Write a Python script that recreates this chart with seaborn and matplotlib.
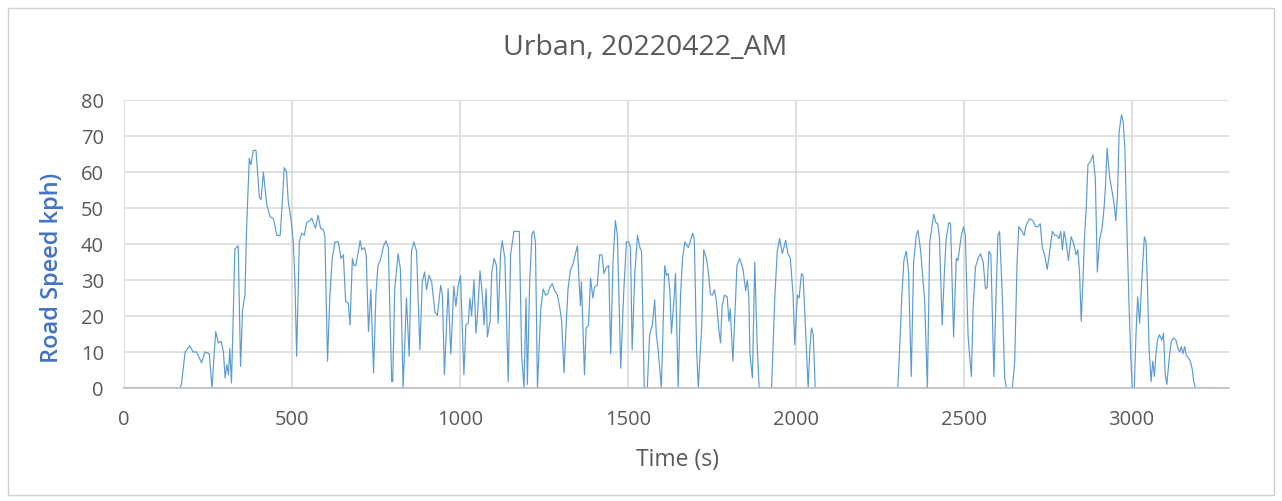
import matplotlib
matplotlib.use("Agg")
import matplotlib.pyplot as plt
import seaborn as sns
import pandas as pd
from matplotlib.patches import Rectangle

# Drive trace: elapsed time (s) and road speed (km/h)
time_s = [
    0, 167, 171, 182, 196, 206, 216, 231, 241, 254, 262, 273, 281, 289, 296, 301,
    306, 311, 315, 320, 325, 330, 340, 347, 353, 360, 365, 373, 378, 385, 393, 403,
    408, 415, 425, 435, 445, 455, 465, 471, 477, 484, 489, 497, 504, 509, 514, 522,
    529, 537, 544, 554, 559, 570, 578, 585, 593, 598, 606, 613, 620, 628, 638, 646,
    653, 660, 668, 673, 680, 685, 690, 698, 703, 708, 716, 721, 728, 735, 743, 750,
    756, 763, 773, 780, 787, 797, 800, 806, 816, 823, 831, 841, 849, 856, 863, 871,
    881, 888, 895, 901, 908, 916, 926, 933, 943, 948, 954, 965, 973, 982, 988, 995,
    1002, 1012, 1018, 1025, 1030, 1035, 1042, 1048, 1053, 1060, 1067, 1072, 1078, 1082, 1090, 1095,
    1102, 1109, 1114, 1121, 1126, 1134, 1144, 1151, 1161, 1177, 1184, 1191, 1197, 1201, 1208, 1215,
    1220, 1225, 1231, 1241, 1248, 1255, 1261, 1268, 1275, 1281, 1290, 1298, 1303, 1310, 1317, 1322,
    1329, 1337, 1344, 1350, 1355, 1359, 1362, 1371, 1376, 1383, 1389, 1396, 1401, 1409, 1416, 1423,
    1429, 1436, 1443, 1449, 1456, 1463, 1469, 1479, 1488, 1496, 1503, 1508, 1513, 1521, 1529, 1536,
    1541, 1549, 1558, 1565, 1573, 1580, 1585, 1590, 1600, 1603, 1610, 1615, 1620, 1625, 1630, 1637,
    1642, 1650, 1657, 1663, 1670, 1680, 1687, 1693, 1698, 1705, 1710, 1715, 1720, 1726, 1734, 1739,
    1746, 1752, 1758, 1764, 1771, 1776, 1781, 1788, 1796, 1801, 1805, 1813, 1825, 1833, 1843, 1851,
    1856, 1860, 1864, 1871, 1878, 1885, 1891, 1928, 1938, 1945, 1952, 1960, 1970, 1977, 1984, 1992,
    1997, 2005, 2010, 2017, 2022, 2029, 2037, 2042, 2047, 2052, 2058, 2304, 2309, 2316, 2322, 2329,
    2336, 2344, 2351, 2359, 2364, 2372, 2379, 2384, 2392, 2399, 2411, 2417, 2423, 2428, 2436, 2443,
    2448, 2456, 2461, 2470, 2478, 2483, 2493, 2500, 2505, 2513, 2516, 2523, 2528, 2535, 2543, 2550,
    2558, 2565, 2570, 2575, 2581, 2590, 2597, 2602, 2607, 2615, 2622, 2627, 2645, 2652, 2659, 2664,
    2672, 2680, 2686, 2696, 2706, 2714, 2721, 2728, 2734, 2741, 2749, 2756, 2764, 2771, 2778, 2784,
    2789, 2794, 2799, 2805, 2812, 2820, 2828, 2835, 2840, 2845, 2850, 2855, 2860, 2865, 2870, 2878,
    2885, 2892, 2898, 2905, 2912, 2918, 2922, 2927, 2930, 2935, 2942, 2948, 2953, 2958, 2963, 2970,
    2975, 2980, 2985, 2992, 2998, 3002, 3008, 3013, 3018, 3024, 3032, 3038, 3043, 3048, 3052, 3058,
    3063, 3068, 3072, 3077, 3083, 3090, 3095, 3100, 3105, 3112, 3118, 3125, 3132, 3138, 3143, 3148,
    3153, 3158, 3163, 3170, 3175, 3180, 3185, 3190, 3240,
]
speed_kph = [
    0, 0, 1, 10, 11.7, 10, 10, 7, 10, 9.5, 0, 15.7, 12.5, 13, 10, 2.8,
    6.5, 3.7, 11, 1.4, 19, 38.6, 39.5, 6, 21.7, 25.8, 44.4, 63.8, 62, 66, 66, 53,
    52.3, 60, 51, 47.6, 47, 42.4, 42.4, 51, 61.2, 60, 51.8, 47, 40.6, 29.5, 8.8, 40.6,
    43, 42.4, 46, 46.5, 47.2, 44.4, 48, 44.4, 44, 42.4, 7.4, 25.8, 36, 40.6, 40.6, 36,
    37, 24, 23.5, 17.5, 36, 34, 34, 38, 41, 38.4, 39, 37, 15.7, 27.3, 4.2, 25.8,
    34, 35.4, 39.5, 40.9, 39, 1.8, 1.8, 27.5, 37.3, 33, 0, 25, 8.8, 38, 40.6, 38,
    10.6, 29.5, 32.2, 27.3, 31.3, 29.5, 21, 20.2, 28.5, 25.8, 3.7, 27.6, 9.5, 28.3, 22.7, 28.5,
    31.3, 3.7, 17.5, 18, 25, 20, 30, 15.2, 21, 32.6, 25.8, 17.5, 27.5, 14.2, 18.5, 32.2,
    36, 34, 18, 37, 40.9, 36, 1.8, 37, 43.5, 43.5, 9, 0, 25, 1, 30, 43,
    43.6, 40.6, 0, 22, 27.5, 25.8, 26, 28, 29, 27.3, 26, 22, 18.5, 4.2, 18.5, 27.5,
    32.6, 34.5, 37.3, 39.5, 29.5, 22.9, 29.5, 3.7, 16.7, 17.5, 30.5, 25, 28, 28.5, 37, 37,
    31.8, 33.5, 34, 9.5, 35, 46.5, 42.4, 5.5, 27, 40.6, 40.6, 39, 10.6, 32.2, 42.4, 39,
    38, 0, 0, 14.8, 17.5, 24.5, 14.8, 11, 0, 10, 34, 31.3, 31.8, 27.5, 15.2, 24,
    31.8, 0, 25.8, 36, 40.6, 39, 41, 43, 41.5, 10, 0, 9, 16.7, 38.4, 36, 33,
    26, 25.8, 27.3, 24, 16.2, 12.5, 22.9, 25.8, 25.3, 18.5, 22, 7.4, 34, 36, 33, 27,
    30, 25.8, 9, 2.8, 35, 12.5, 0, 0, 25.8, 38, 41.5, 37.3, 41, 37.3, 36, 25.8,
    12, 25.8, 25, 31.8, 31.3, 16.7, 0, 11, 16.7, 15, 0, 0, 10, 25.8, 35.4, 38,
    32.2, 3.2, 35, 42.4, 43.8, 38, 30, 24, 0, 40.6, 48.3, 46, 45.6, 41.5, 17.5, 33,
    41.5, 46, 45.6, 14.2, 36, 35.4, 42.4, 44.8, 42.4, 14.8, 11, 3.2, 22, 33.5, 36, 37.3,
    35, 27.5, 28, 38, 37, 3.2, 27.5, 42.4, 43.5, 25.8, 2.8, 0, 0, 7.4, 35, 44.8,
    43.8, 42.4, 45.2, 47, 46.5, 44.8, 44.8, 45.6, 39, 37, 33, 38, 43.5, 42.4, 42.4, 41.5,
    43.5, 38.4, 43.5, 40.6, 35.4, 42, 40, 37, 38.4, 32.2, 18.5, 29.5, 42.4, 50, 62, 63,
    64.8, 58.3, 32.2, 41.5, 44.4, 50, 55.5, 66.6, 63.4, 58.3, 54.6, 51, 46.5, 53.7, 71.3, 75.9,
    74, 66.6, 48, 24, 7.4, 0, 0, 14.8, 25.3, 18, 33, 42, 40.6, 25.8, 11, 1.8,
    7.4, 3.2, 9, 13.3, 14.8, 13.3, 15.2, 3.7, 1, 8.3, 12.9, 13.9, 13.3, 11, 10, 11.5,
    9.5, 11.5, 9, 8.3, 7.4, 5.5, 1.8, 0, 0,
]

x_ticks = [0, 500, 1000, 1500, 2000, 2500, 3000]
y_ticks = [0, 10, 20, 30, 40, 50, 60, 70, 80]

df = pd.DataFrame({"time": time_s, "speed": speed_kph})

sns.set_theme(style="white")
plt.rcParams["font.family"] = ["Open Sans", "DejaVu Sans"]

W, H = 1282, 501
fig = plt.figure(figsize=(W / 100, H / 100), dpi=100)
ax = fig.add_axes([124 / W, 1 - 388 / H, (1229 - 124) / W, (388 - 100) / H])

sns.lineplot(data=df, x="time", y="speed", ax=ax,
             color="#5B9BD5", linewidth=0.85, estimator=None, sort=False)

ax.set_xlim(0, 3290)
ax.set_ylim(0, 80)
ax.set_xticks(x_ticks)
ax.set_yticks(y_ticks)
ax.grid(True, color="#d9d9d9", linewidth=1.1)
ax.set_axisbelow(True)
for side in ("top", "right", "left"):
    ax.spines[side].set_visible(False)
ax.spines["bottom"].set_color("#bfbfbf")
ax.spines["bottom"].set_linewidth(1.2)
ax.tick_params(axis="y", length=0, labelsize=14.5, colors="#595959", pad=14.5)
ax.tick_params(axis="x", length=0, labelsize=14.5, colors="#595959", pad=16)
ax.set_xlabel("")
ax.set_ylabel("")

# Title and axis titles
fig.text(645 / W, 1 - 48 / H, "Urban, 20220422_AM", ha="center", va="center",
         fontsize=20.5, color="#595959")
fig.text(677 / W, 1 - 460 / H, "Time (s)", ha="center", va="center",
         fontsize=16.5, color="#595959")
fig.text(52 / W, 1 - 268 / H, "Road Speed kph)", ha="center", va="center",
         rotation=90, fontsize=17, color="#4472C4", fontweight="semibold")

# Chart frame
fig.patches.append(Rectangle((8 / W, 6 / H), 1266 / W, 487 / H,
                             transform=fig.transFigure, fill=False,
                             edgecolor="#d0d0d0", linewidth=1))

fig.savefig("out.png", dpi=100, facecolor="white")
